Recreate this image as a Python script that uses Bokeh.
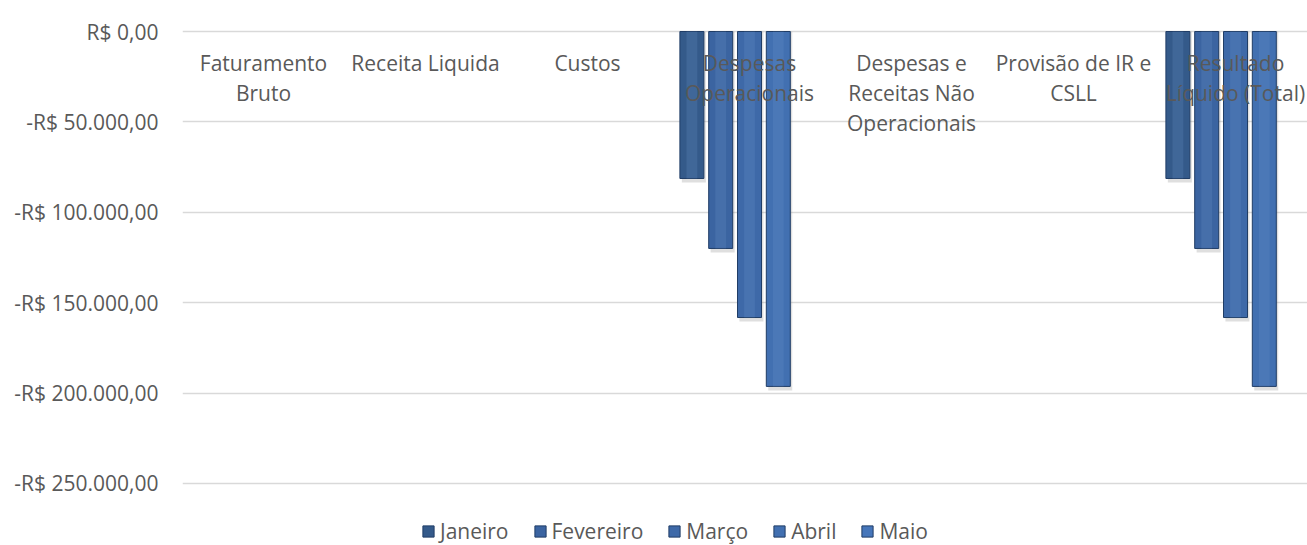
from bokeh.plotting import figure
from bokeh.layouts import column
from bokeh.models import Range1d, FixedTicker, Legend, LegendItem, ColumnDataSource
from bokeh.core.properties import value
from bokeh.embed import file_html
from bokeh.resources import INLINE

categories = ["Faturamento\nBruto", "Receita Liquida", "Custos", "Despesas\nOperacionais",
              "Despesas e\nReceitas Não\nOperacionais", "Provisão de IR e\nCSLL",
              "Resultado\nLíquido (Total)"]
series_names = ["Janeiro", "Fevereiro", "Março", "Abril", "Maio"]
janeiro = [0, 0, 0, -81300, 0, 0, -81300]
fevereiro = [0, 0, 0, -120000, 0, 0, -120000]
marco = [0, 0, 0, -158200, 0, 0, -158200]
abril = [0, 0, 0, -196300, 0, 0, -196300]
maio = [0, 0, 0, 0, 0, 0, 0]
y_ticks = [0, -50000, -100000, -150000, -200000, -250000]
y_tick_labels = ["R$ 0,00", "-R$ 50.000,00", "-R$ 100.000,00", "-R$ 150.000,00",
                 "-R$ 200.000,00", "-R$ 250.000,00"]

series_values = [janeiro, fevereiro, marco, abril, maio]
colors = ["#345a8a", "#3b64a1", "#3e69a8", "#4270b1", "#4676ba"]
edge = "#203d66"
TEXT = "#595959"
FONT = "Open Sans"

W = 1307
H_MAIN, H_LEG = 496, 49
LEFT, TOP = 182, 23
px_per_unit = 90.4 / 50000.0
pad = 8 / px_per_unit
cat_px = 162.0

p = figure(width=W, height=H_MAIN, output_backend="svg", toolbar_location=None,
           x_range=Range1d(0, (W - LEFT) / cat_px),
           y_range=Range1d(y_ticks[-1] - pad, y_ticks[0] + pad),
           x_axis_location=None, min_border_left=LEFT, min_border_right=0,
           min_border_top=TOP, min_border_bottom=H_MAIN - TOP - 468)
p.outline_line_color = None
p.background_fill_color = "white"
p.border_fill_color = "white"

p.yaxis.ticker = FixedTicker(ticks=y_ticks)
p.yaxis.major_label_overrides = {t: l for t, l in zip(y_ticks, y_tick_labels)}
p.yaxis.axis_line_color = None
p.yaxis.major_tick_line_color = None
p.yaxis.minor_tick_line_color = None
p.yaxis.major_tick_out = 0
p.yaxis.major_tick_in = 0
p.yaxis.major_label_standoff = 24
p.yaxis.major_label_text_font = FONT
p.yaxis.major_label_text_font_size = "21px"
p.yaxis.major_label_text_color = TEXT
p.ygrid.ticker = FixedTicker(ticks=y_ticks)
p.ygrid.grid_line_color = "#d9d9d9"
p.ygrid.grid_line_width = 1.3
p.xgrid.grid_line_color = None

n = len(series_values)
bar_w = 24 / cat_px
pitch = 28.8 / cat_px
for k, (name, vals, col) in enumerate(zip(series_names, series_values, colors)):
    xs = [i + 0.5 + (k - (n - 1) / 2) * pitch for i in range(len(categories))]
    vis = [1.0 if v != 0 else 0.0 for v in vals]
    src = ColumnDataSource(dict(x=xs, top=[0] * len(vals), bottom=vals,
                                sh=[v - 2200 if v < 0 else 0 for v in vals],
                                xs=[x + 0.012 for x in xs],
                                la=vis, fa=vis,
                                sa=[0.25 * a for a in vis], ca=[0.22 * a for a in vis]))
    p.vbar(x="xs", width=bar_w, top="top", bottom="sh", source=src,
           fill_color="#7f7f7f", fill_alpha="sa", line_color=None)
    p.vbar(x="x", width=bar_w, top="top", bottom="bottom", source=src,
           fill_color=col, fill_alpha="fa", line_color=edge, line_alpha="la",
           line_width=1)
    p.vbar(x="x", width=bar_w * 0.45, top="top", bottom="bottom", source=src,
           fill_color="#6f95cc", fill_alpha="ca", line_color=None)

p.text(x=[i + 0.5 for i in range(len(categories))], y=[0] * len(categories),
       text=categories, text_align="center", text_baseline="top",
       text_font=value(FONT), text_font_size="21px", text_color=TEXT,
       text_line_height=1.08, y_offset=17)

# legend strip
lg = figure(width=W, height=H_LEG, output_backend="svg", toolbar_location=None,
            x_range=Range1d(0, 1), y_range=Range1d(0, 1),
            x_axis_location=None, y_axis_location=None,
            min_border_left=0, min_border_right=0, min_border_top=0, min_border_bottom=0)
lg.outline_line_color = None
lg.xgrid.grid_line_color = None
lg.ygrid.grid_line_color = None
items = []
for name, col in zip(series_names, colors):
    r = lg.vbar(x=[-5], width=0.1, top=[-5], bottom=[-6], fill_color=col,
                line_color=edge, line_width=1)
    items.append(LegendItem(label=name, renderers=[r]))
legend = Legend(items=items, orientation="horizontal", location=(421 - LEFT, 0),
                padding=0, margin=0, spacing=24, glyph_width=14, glyph_height=14,
                label_standoff=5, label_text_font=FONT, label_text_font_size="21px",
                label_text_color=TEXT, border_line_color=None,
                background_fill_alpha=0)
lg.add_layout(legend, "center")

layout = column(p, lg, spacing=0)
open("out.html", "w").write(file_html(layout, INLINE))
